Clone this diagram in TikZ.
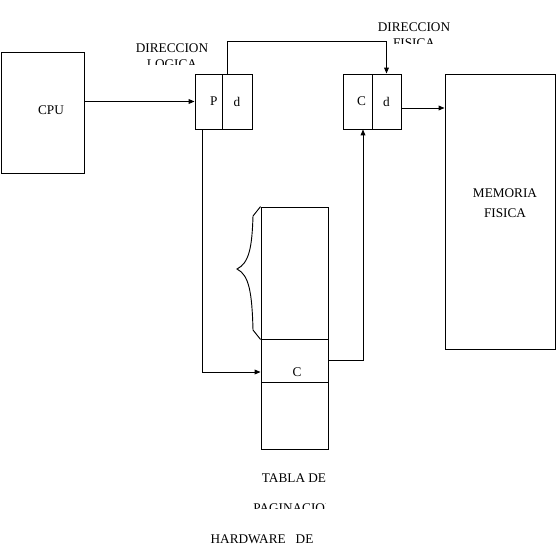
\documentclass[tikz,border=0pt]{standalone}
\usepackage{fontspec}
\setmainfont{Liberation Serif}
\usepackage{tikz}
\usetikzlibrary{arrows.meta,positioning,calc}
\newcommand{\pxl}{0.0265cm}
\tikzset{
  hwbox/.style={
    rectangle, draw=black, line width=0.7pt, inner sep=0pt,
    font=\fontsize{10}{12}\selectfont, align=center
  },
  hwtext/.style={font=\fontsize{10}{12}\selectfont, inner sep=0pt, anchor=base},
  hwarr/.style={-{Triangle[length=4.5pt,width=3.6pt]}, line width=0.7pt},
  hwline/.style={line width=0.7pt}
}
\begin{document}
\begin{tikzpicture}[x=\pxl, y=-\pxl]
  \useasboundingbox (0,0) rectangle (556,549);

  % CPU and memoria
  \node[hwbox, minimum width=83*\pxl, minimum height=121*\pxl] (cpu) at (42.5,112.5) {};
  \node[hwtext] (cpulbl) at (51,114) {CPU};
  \node[hwbox, minimum width=110*\pxl, minimum height=275*\pxl] (mem) at (500,211.5) {};
  \node[hwtext, anchor=center, align=center, font=\fontsize{10}{15}\selectfont]
    (memlbl) at (505,203) {MEMORIA\\FISICA};

  % Direccion logica
  \node[hwbox, minimum width=27*\pxl, minimum height=55*\pxl] (pbox) at (208.5,101.5) {\hspace{8pt}P};
  \node[hwbox, minimum width=30*\pxl, minimum height=55*\pxl] (dbox) at (237,101.5) {d};

  % Direccion fisica
  \node[hwbox, minimum width=29*\pxl, minimum height=55*\pxl] (cbox) at (357.5,101.5) {\hspace{6pt}C};
  \node[hwbox, minimum width=29*\pxl, minimum height=55*\pxl] (dbox2) at (386.5,101.5) {d};

  % Tabla de paginacion
  \node[hwbox, minimum width=67*\pxl, minimum height=132*\pxl] (tab1) at (294.5,273) {};
  \node[hwbox, minimum width=67*\pxl, minimum height=43*\pxl] (tabc) at (294.5,360.5) {};
  \node[hwtext] (tabclbl) at (297,376) {C};
  \node[hwbox, minimum width=67*\pxl, minimum height=67*\pxl] (tab3) at (294.5,415.5) {};

  % Brace
  \draw[hwline] (tab1.north west) -- (253,216)
    .. controls (252,248) and (249,263) .. (237,269)
    .. controls (249,275) and (252,292) .. (253,330) -- (tab1.south west);

  % Labels (cut off)
  \node[hwtext] (dirlog) at (172,52) {DIRECCION};
  \begin{scope}
    \clip (120,50) rectangle (230,64);
    \node[hwtext] (loglbl) at (172,68) {LOGICA};
  \end{scope}
  \node[hwtext] (dirfis) at (414,31.5) {DIRECCION};
  \begin{scope}
    \clip (390,33) rectangle (440,43.7);
    \node[hwtext] (fislbl) at (414,47) {FISICA};
  \end{scope}
  \node[hwtext] (tablbl) at (294,482) {TABLA DE};
  \begin{scope}
    \clip (240,495) rectangle (325,508);
    \node[hwtext] (paglbl) at (294,512) {PAGINACION};
  \end{scope}
  \node[hwtext] (hwlbl) at (262,543) {HARDWARE\ \ \ DE};

  % Lines
  \coordinate (cdout) at ($(dbox2.east)+(0,6.5)$);
  \coordinate (tabin) at ($(tabc.west)+(0,11.5)$);
  \draw[hwarr] (cpu.east |- pbox.west) -- (pbox.west);
  \draw[hwarr] ($(dbox.north west)+(6,0)$) -- ++(0,-32) -| (dbox2.north);
  \draw[hwarr] (cdout) -- (cdout -| mem.west);
  \draw[hwarr] ($(pbox.south west)+(8,0)$) |- (tabin);
  \draw[hwarr] (tabc.east) -| ($(cbox.south)+(5.5,0)$);
\end{tikzpicture}
\end{document}
